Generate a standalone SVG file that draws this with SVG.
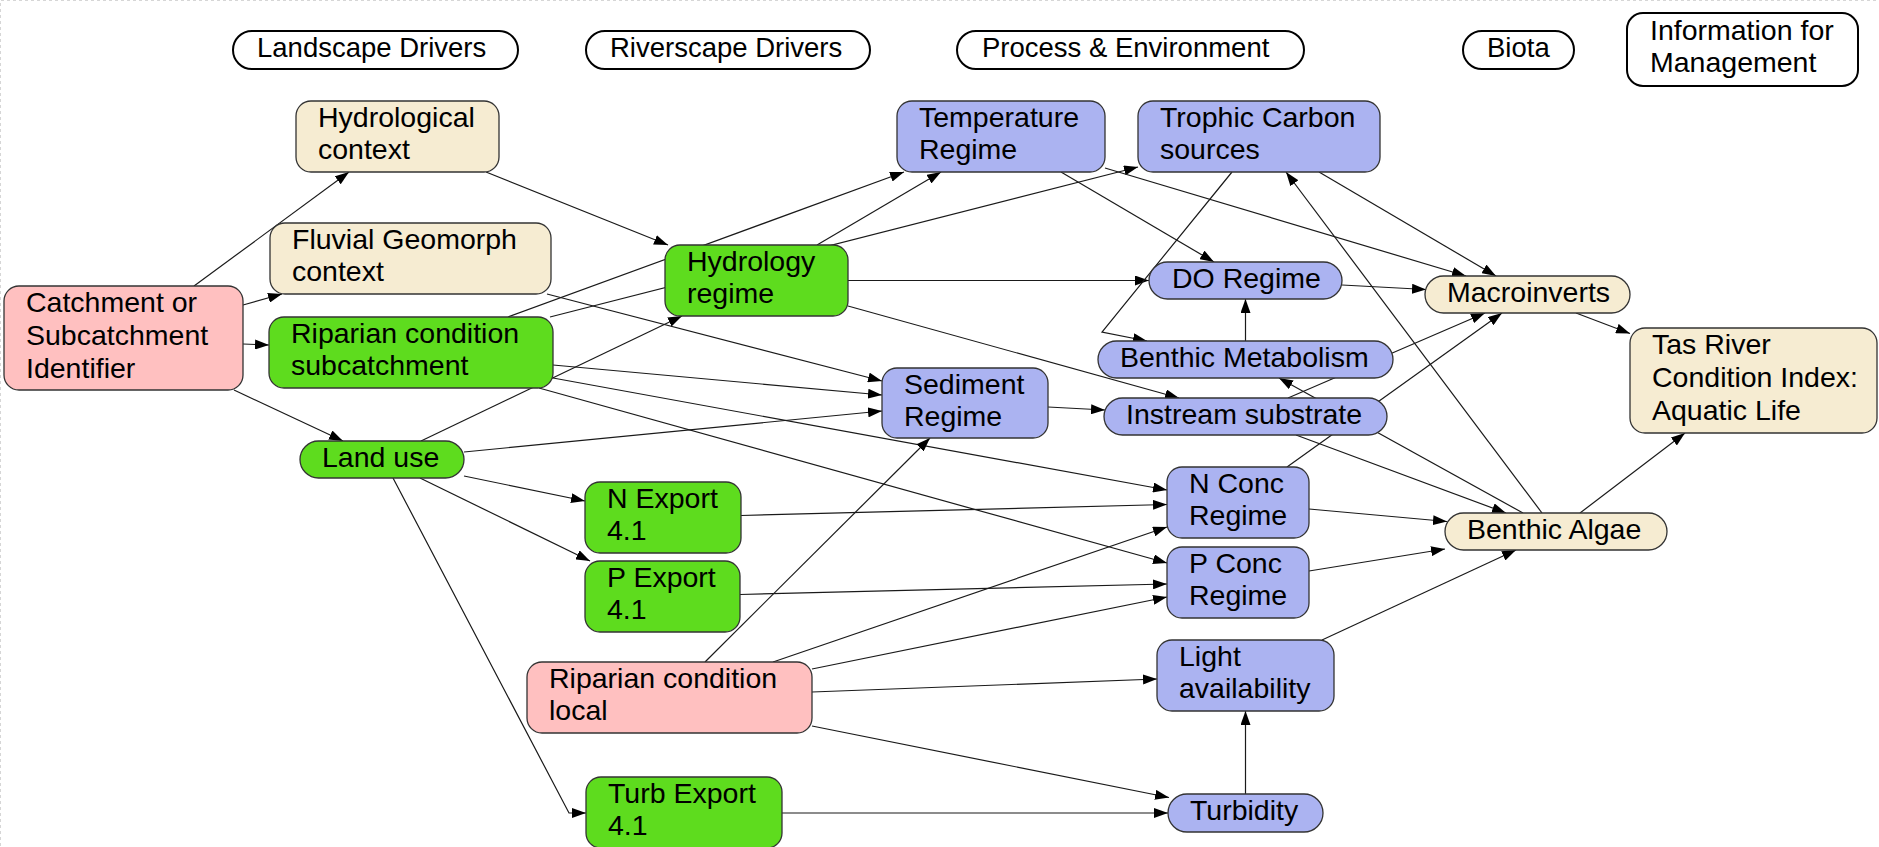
<svg xmlns="http://www.w3.org/2000/svg" width="1879" height="847" viewBox="0 0 1879 847">
<defs>
<style>
.bg{fill:#ffffff}
.frame{stroke:#d6d6d6;stroke-width:1;stroke-dasharray:3,3;fill:none}
.hdr rect{fill:#ffffff;stroke:#000;stroke-width:2}
.hdr text{font-family:"Liberation Sans",Arial,sans-serif;font-size:27.5px;fill:#000}
.node rect{stroke:#333;stroke-width:1.3}
.node text{font-family:"Liberation Sans",Arial,sans-serif;font-size:28.5px;fill:#000}
.tan rect{fill:#f6ecd2}
.pink rect{fill:#ffc0c0}
.green rect{fill:#5edc1e}
.blue rect{fill:#abb3f1}
#connectors path{fill:none;stroke:#1a1a1a;stroke-width:1.2;marker-end:url(#arr)}
</style>
<marker id="arr" viewBox="0 0 14 10" refX="14" refY="5" markerWidth="14" markerHeight="10" markerUnits="userSpaceOnUse" orient="auto">
<path d="M0,0 L14,5 L0,10 z" fill="#000"/>
</marker>
</defs>
<rect class="bg" x="0" y="0" width="1879" height="847"/>
<path class="frame" d="M0.5,846 L0.5,0.5 L1879,0.5"/>

<g id="connectors">
<path d="M194,286 L349,172"/>
<path d="M243,305 L282,294"/>
<path d="M243,344 L269,345"/>
<path d="M234,390 L343,441"/>
<path d="M486,172 L668,245"/>
<path d="M547,294 L882,381"/>
<path d="M508,317 L904,172"/>
<path d="M550,317 L1138,167"/>
<path d="M817,245 L941,172"/>
<path d="M421,441 L682,316"/>
<path d="M848,280.5 L1149,280.5"/>
<path d="M848,306 L1179,398"/>
<path d="M553,365 L882,395"/>
<path d="M553,378 L1167,490"/>
<path d="M539,388 L1167,563"/>
<path d="M464,452 L882,411"/>
<path d="M464,476 L585,501"/>
<path d="M420,478 L590,561"/>
<path d="M393,478 L569,813 L586,813"/>
<path d="M741,515.5 L1167,504.5"/>
<path d="M740,594.5 L1167,584"/>
<path d="M705,662 L930,438"/>
<path d="M773,662 L1167,527"/>
<path d="M812,669 L1167,597"/>
<path d="M812,692 L1157,679"/>
<path d="M812,726 L1169,797.5"/>
<path d="M782,813 L1168,813"/>
<path d="M1245.5,794 L1245.5,711"/>
<path d="M1048,407 L1105,410"/>
<path d="M1061,172 L1214,262"/>
<path d="M1105,168 L1466,276"/>
<path d="M1319,172 L1496,276"/>
<path d="M1232,172 L1102,332 L1147,341"/>
<path d="M1342,285 L1426,289.5"/>
<path d="M1245.5,341 L1245.5,299"/>
<path d="M1288,398 L1485,313"/>
<path d="M1287,467 L1502,313"/>
<path d="M1296,435 L1506,513"/>
<path d="M1523,513 L1279,378"/>
<path d="M1542,513 L1286,172"/>
<path d="M1309,509 L1447,521.5"/>
<path d="M1309,571 L1445,549"/>
<path d="M1322,640 L1516,550"/>
<path d="M1580,513 L1685,433"/>
<path d="M1576,313 L1630,333.5"/>
</g>

<g id="hdr-landscape" class="hdr"><rect x="233" y="31" width="285" height="38" rx="19"/><text x="257" y="57">Landscape Drivers</text></g>
<g id="hdr-riverscape" class="hdr"><rect x="586" y="31" width="284" height="38" rx="19"/><text x="610" y="57">Riverscape Drivers</text></g>
<g id="hdr-process" class="hdr"><rect x="957" y="31" width="347" height="38" rx="19"/><text x="982" y="57">Process &amp; Environment</text></g>
<g id="hdr-biota" class="hdr"><rect x="1463" y="31" width="111" height="38" rx="19"/><text x="1487" y="57">Biota</text></g>
<g id="hdr-info" class="hdr"><rect x="1627" y="13" width="231" height="73" rx="16"/><text x="1650" y="40" style="font-size:28.5px">Information for</text><text x="1650" y="72" style="font-size:28.5px">Management</text></g>

<g id="n-hydctx" class="node tan"><rect x="296" y="101" width="203" height="71" rx="15"/><text x="318" y="127">Hydrological</text><text x="318" y="159">context</text></g>
<g id="n-fluv" class="node tan"><rect x="270" y="223" width="281" height="71" rx="15"/><text x="292" y="249">Fluvial Geomorph</text><text x="292" y="281">context</text></g>
<g id="n-catch" class="node pink"><rect x="4" y="286" width="239" height="104" rx="15"/><text x="26" y="312">Catchment or</text><text x="26" y="345">Subcatchment</text><text x="26" y="378">Identifier</text></g>
<g id="n-ripsub" class="node green"><rect x="269" y="317" width="284" height="71" rx="15"/><text x="291" y="343">Riparian condition</text><text x="291" y="375">subcatchment</text></g>
<g id="n-landuse" class="node green"><rect x="300" y="441" width="164" height="37" rx="18.5"/><text x="322" y="467">Land use</text></g>
<g id="n-hydreg" class="node green"><rect x="665" y="245" width="183" height="71" rx="15"/><text x="687" y="271">Hydrology</text><text x="687" y="303">regime</text></g>
<g id="n-sed" class="node blue"><rect x="882" y="368" width="166" height="70" rx="15"/><text x="904" y="394">Sediment</text><text x="904" y="426">Regime</text></g>
<g id="n-nexp" class="node green"><rect x="585" y="482" width="156" height="71" rx="15"/><text x="607" y="508">N Export</text><text x="607" y="540">4.1</text></g>
<g id="n-pexp" class="node green"><rect x="585" y="561" width="155" height="71" rx="15"/><text x="607" y="587">P Export</text><text x="607" y="619">4.1</text></g>
<g id="n-riploc" class="node pink"><rect x="527" y="662" width="285" height="71" rx="15"/><text x="549" y="688">Riparian condition</text><text x="549" y="720">local</text></g>
<g id="n-turbexp" class="node green"><rect x="586" y="777" width="196" height="71" rx="15"/><text x="608" y="803">Turb Export</text><text x="608" y="835">4.1</text></g>
<g id="n-temp" class="node blue"><rect x="897" y="101" width="208" height="71" rx="15"/><text x="919" y="127">Temperature</text><text x="919" y="159">Regime</text></g>
<g id="n-troph" class="node blue"><rect x="1138" y="101" width="242" height="71" rx="15"/><text x="1160" y="127">Trophic Carbon</text><text x="1160" y="159">sources</text></g>
<g id="n-do" class="node blue"><rect x="1149" y="262" width="193" height="37" rx="18.5"/><text x="1172" y="288">DO Regime</text></g>
<g id="n-bmet" class="node blue"><rect x="1098" y="341" width="295" height="37" rx="18.5"/><text x="1120" y="367">Benthic Metabolism</text></g>
<g id="n-instr" class="node blue"><rect x="1104" y="398" width="283" height="37" rx="18.5"/><text x="1126" y="424">Instream substrate</text></g>
<g id="n-nconc" class="node blue"><rect x="1167" y="467" width="142" height="71" rx="15"/><text x="1189" y="493">N Conc</text><text x="1189" y="525">Regime</text></g>
<g id="n-pconc" class="node blue"><rect x="1167" y="547" width="142" height="71" rx="15"/><text x="1189" y="573">P Conc</text><text x="1189" y="605">Regime</text></g>
<g id="n-light" class="node blue"><rect x="1157" y="640" width="177" height="71" rx="15"/><text x="1179" y="666">Light</text><text x="1179" y="698">availability</text></g>
<g id="n-turb" class="node blue"><rect x="1168" y="794" width="155" height="38" rx="19"/><text x="1190" y="820">Turbidity</text></g>
<g id="n-macro" class="node tan"><rect x="1425" y="276" width="205" height="37" rx="18.5"/><text x="1447" y="302">Macroinverts</text></g>
<g id="n-tas" class="node tan"><rect x="1630" y="328" width="247" height="105" rx="15"/><text x="1652" y="354">Tas River</text><text x="1652" y="387">Condition Index:</text><text x="1652" y="420">Aquatic Life</text></g>
<g id="n-balgae" class="node tan"><rect x="1445" y="513" width="222" height="37" rx="18.5"/><text x="1467" y="539">Benthic Algae</text></g>
</svg>
